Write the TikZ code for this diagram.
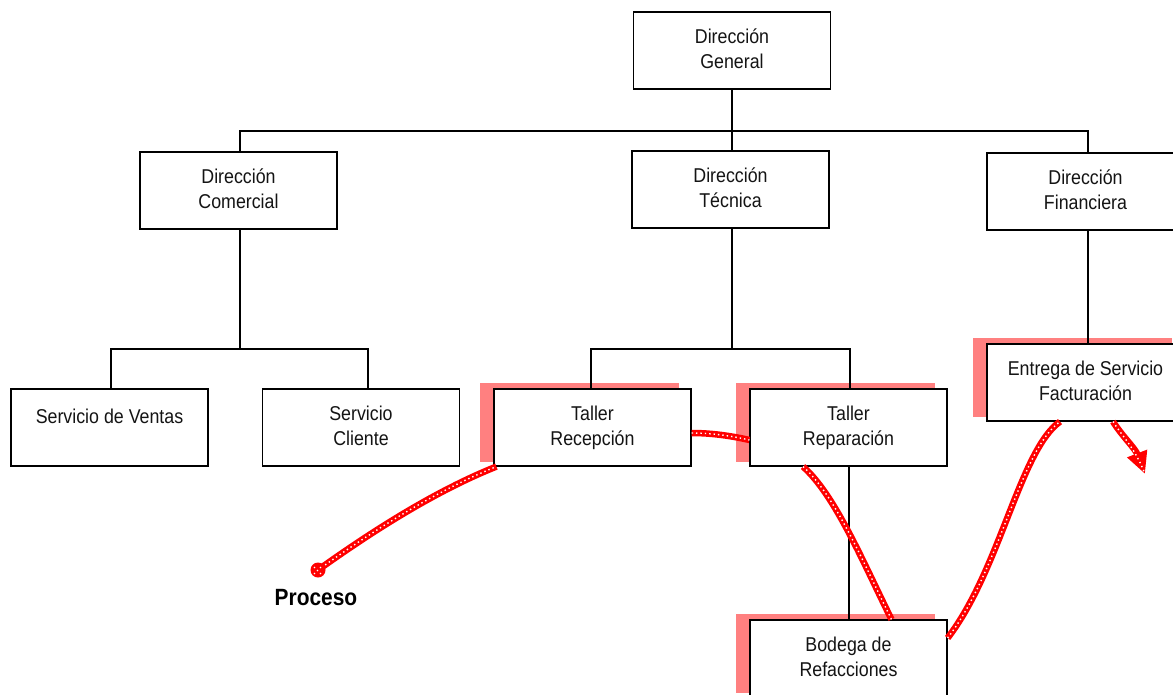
\documentclass[tikz,border=0pt]{standalone}
\usepackage{fontspec}
\setmainfont{Liberation Sans}[FakeStretch=0.89]
\usetikzlibrary{arrows.meta}
\definecolor{shadowred}{RGB}{255,128,128}
\definecolor{txtgray}{RGB}{20,20,20}
\tikzset{
  orgbox/.style={draw=black, line width=1.2pt, fill=white, minimum width=197pt, minimum height=77pt,
    inner sep=0pt, text=txtgray, font=\fontsize{20}{25}\selectfont},
  orgline/.style={draw=black, line width=1.2pt},
  redline/.style={draw=red, line width=6.5pt,
    postaction={draw=white, line width=1.4pt, dash pattern=on 1.4pt off 3pt, arrows=-}},
}
\newcommand{\bt}[1]{\raisebox{5pt}{\begin{tabular}{@{}c@{}}#1\end{tabular}}}
\newcommand{\boxshadow}[1]{\fill[shadowred] ([shift={(-13pt,5pt)}]#1.south west) rectangle ([shift={(-13pt,5pt)}]#1.north east);}
\begin{document}
\begin{tikzpicture}[x=1pt, y=-1pt]
\useasboundingbox (0,0) rectangle (1173,694);
\clip (0,0) rectangle (1173,694);
\fill[white] (0,0) rectangle (1173,694);
\path (592.5,427.5) coordinate (crec) (848.5,427.5) coordinate (crep)
      (1085.5,382.5) coordinate (cent) (848.5,658.5) coordinate (cbod);
% nodes
\node[orgbox] (dg) at (732,50.5) {\bt{Dirección\\General}};
\node[orgbox] (dc) at (238.5,190.5) {\bt{Dirección\\Comercial}};
\node[orgbox] (dt) at (730.5,189.5) {\bt{Dirección\\Técnica}};
\node[orgbox] (df) at (1085.5,191.5) {\bt{Dirección\\Financiera}};
\node[orgbox] (sv) at (109.5,427.5) {\raisebox{22pt}{Servicio de Ventas}};
\node[orgbox] (sc) at (361,427.5) {\bt{Servicio\\Cliente}};
% shadows
\node[orgbox, draw=none, fill=none] (rec0) at (crec) {};
\node[orgbox, draw=none, fill=none] (rep0) at (crep) {};
\node[orgbox, draw=none, fill=none] (ent0) at (cent) {};
\node[orgbox, draw=none, fill=none] (bod0) at (cbod) {};
\boxshadow{rec0}
\boxshadow{rep0}
\boxshadow{ent0}
\boxshadow{bod0}
\node[orgbox] (rec) at (crec) {\bt{Taller\\Recepción}};
\node[orgbox] (rep) at (crep) {\bt{Taller\\Reparación}};
\node[orgbox] (ent) at (cent) {\bt{Entrega de Servicio\\Facturación}};
\node[orgbox] (bod) at (cbod) {\bt{Bodega de\\Refacciones}};
% bus coordinates
\coordinate (bus0) at (0,131);
\coordinate (bus1) at (0,349);
% top level connectors
\draw[orgline] (dg.south) -- (dg.south |- bus0);
\draw[orgline] ([xshift=1.5pt]dc.north) -- ([xshift=1.5pt]dc.north |- bus0) -- ([xshift=2.5pt]df.north |- bus0) -- ([xshift=2.5pt]df.north);
\draw[orgline] ([xshift=1.5pt]dt.north) -- ([xshift=1.5pt]dt.north |- bus0);
% comercial
\draw[orgline] ([xshift=1.5pt]dc.south) -- ([xshift=1.5pt]dc.south |- bus1);
\draw[orgline] ([xshift=1.5pt]sv.north) -- ([xshift=1.5pt]sv.north |- bus1) -- ([xshift=7pt]sc.north |- bus1) -- ([xshift=7pt]sc.north);
% tecnica
\draw[orgline] ([xshift=1.5pt]dt.south) -- ([xshift=1.5pt]dt.south |- bus1);
\draw[orgline] ([xshift=-1.5pt]rec.north) -- ([xshift=-1.5pt]rec.north |- bus1) -- ([xshift=1.5pt]rep.north |- bus1) -- ([xshift=1.5pt]rep.north);
\draw[orgline] ([xshift=0.5pt]rep.south) -- ([xshift=0.5pt]bod.north);
% financiera
\draw[orgline] ([xshift=2.5pt]df.south) -- ([xshift=2.5pt]ent.north);
% Proceso
\node[font=\bfseries\fontsize{23.5}{28}\selectfont, text=black, inner sep=0pt] (proc) at (316,598) {Proceso};
\coordinate (pdot) at (318,570);
\coordinate (atip) at (1145,474);
% red flows
\draw[redline] (pdot) .. controls (385,522) and (445,487) .. ([xshift=3pt]rec.south west);
\fill[red] (pdot) circle (7.5pt);
\foreach \dx/\dy in {-3.5/-3.5,2.5/-3.5,-3.5/2.5,2.5/2.5,-0.5/-0.5}{\fill[white] ([shift={(\dx pt,\dy pt)}]pdot) circle (0.8pt);}
\draw[redline] ([yshift=-5.5pt]rec.east) .. controls (712,433) and (732,436) .. ([yshift=-12.5pt]rep.west);
\draw[redline] ([xshift=-45.5pt]rep.south) .. controls (835,495) and (862,560) .. ([xshift=43pt]bod.north);
\draw[redline] ([yshift=20.5pt]bod.east) .. controls (1000,570) and (1020,450) .. ([xshift=-25.5pt]ent.south);
\draw[redline, -{Triangle[length=22pt, width=20pt]}] ([xshift=27.5pt]ent.south) .. controls (1122,436) and (1135,448) .. (atip);
\end{tikzpicture}
\end{document}
